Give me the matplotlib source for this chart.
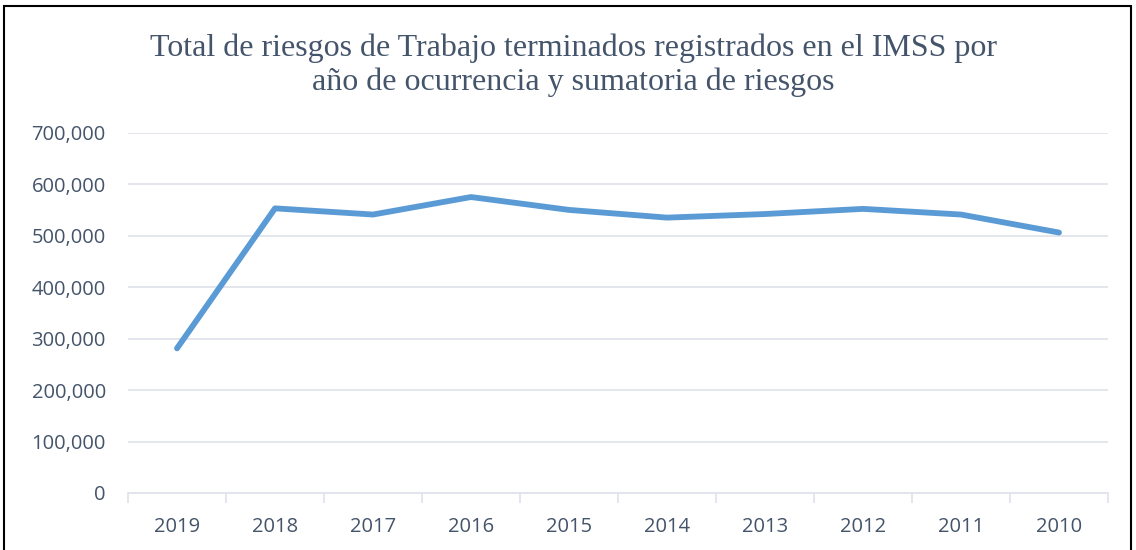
import matplotlib
matplotlib.use("Agg")
import matplotlib.pyplot as plt
import numpy as np
from matplotlib.patches import Rectangle
from matplotlib.ticker import FuncFormatter

years = ["2019", "2018", "2017", "2016", "2015", "2014", "2013", "2012", "2011", "2010"]
riesgos = [281000, 553000, 541000, 575000, 550000, 535000, 542000, 552000, 541000, 506000]
y_ticks = [0, 100000, 200000, 300000, 400000, 500000, 600000, 700000]

title = ("Total de riesgos de Trabajo terminados registrados en el IMSS por\n"
         "año de ocurrencia y sumatoria de riesgos")

text_color = "#44546A"
grid_color = "#E1E4EA"

fig = plt.figure(figsize=(11.36, 5.5), dpi=100)
ax = fig.add_axes([128 / 1136, 1 - 493 / 550, (1108 - 128) / 1136, (493 - 132.7) / 550])

x = np.arange(len(years))
ax.plot(x, riesgos, color="#5B9BD5", linewidth=4.2, solid_capstyle="round",
        solid_joinstyle="round", zorder=3)

ax.set_xlim(-0.5, len(years) - 0.5)
ax.set_ylim(0, 700000)
ax.set_yticks(y_ticks)
ax.yaxis.set_major_formatter(FuncFormatter(lambda v, p: f"{int(v):,}"))
ax.set_xticks(x)
ax.set_xticklabels(years)
ax.set_xticks(np.arange(-0.5, len(years), 1.0), minor=True)

ax.grid(axis="y", color=grid_color, linewidth=1.3, zorder=0)
for side in ["top", "right", "left"]:
    ax.spines[side].set_visible(False)
ax.spines["bottom"].set_color(grid_color)
ax.spines["bottom"].set_linewidth(1.3)

ax.tick_params(axis="y", length=0, pad=16, labelsize=14.5, labelcolor=text_color)
ax.tick_params(axis="x", which="major", length=0, pad=17, labelsize=14.5, labelcolor=text_color)
ax.tick_params(axis="x", which="minor", length=7, width=1.3, color=grid_color)
for lbl in ax.get_xticklabels() + ax.get_yticklabels():
    lbl.set_family("Open Sans")

fig.text(573 / 1136, 1 - 65 / 550, title, ha="center", va="center", fontsize=23,
         family="Liberation Serif", color=text_color, linespacing=1.2)

fig.add_artist(Rectangle((4 / 1136, -0.05), 1127 / 1136, 1 - 6 / 550 + 0.05,
                         transform=fig.transFigure, fill=False, edgecolor="black",
                         linewidth=1.5))

fig.savefig("out.png", dpi=100)
